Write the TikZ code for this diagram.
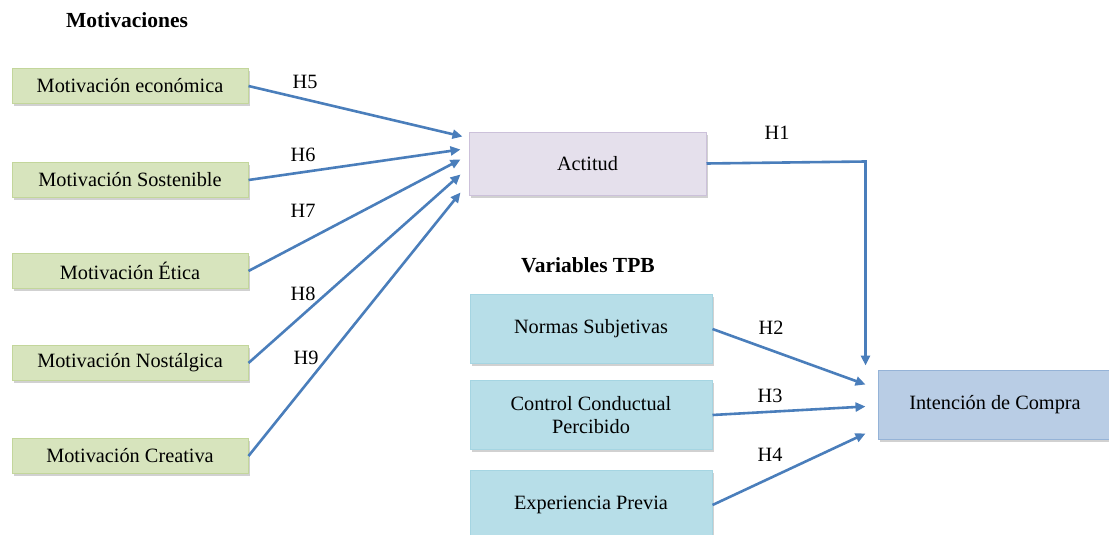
\documentclass[tikz,border=0pt]{standalone}
\usepackage{fontspec}
\setmainfont{Liberation Serif}
\usetikzlibrary{arrows.meta,calc,shadows}
\definecolor{gfill}{HTML}{D7E4BD}
\definecolor{gdraw}{HTML}{C3D69B}
\definecolor{pfill}{HTML}{E5E0EC}
\definecolor{pdraw}{HTML}{CCC1DA}
\definecolor{bfill}{HTML}{B7DEE8}
\definecolor{bdraw}{HTML}{A5D5E2}
\definecolor{ifill}{HTML}{B9CDE5}
\definecolor{idraw}{HTML}{95B3D7}
\definecolor{arr}{HTML}{4A7EBB}
\tikzset{
  base/.style={rectangle, line width=1pt, align=center, font=\fontsize{20.3}{23}\selectfont,
    drop shadow={shadow xshift=1.5pt, shadow yshift=-2.5pt, fill=black!30, opacity=0.6}},
  gbox/.style={base, fill=gfill, draw=gdraw, minimum width=236pt, minimum height=35pt},
  pbox/.style={base, fill=pfill, draw=pdraw, minimum width=237pt, minimum height=63pt},
  bbox/.style={base, fill=bfill, draw=bdraw, minimum width=242pt, minimum height=69pt},
  ibox/.style={base, fill=ifill, draw=idraw, minimum width=234pt, minimum height=69pt},
  conn/.style={draw=arr, line width=2.6pt, -{Triangle[length=10pt,width=9pt]}},
  hlab/.style={font=\fontsize{20.3}{23}\selectfont},
  head/.style={font=\bfseries\fontsize{21.5}{25}\selectfont}
}
\begin{document}
\begin{tikzpicture}[x=1pt,y=-1pt]
\useasboundingbox (0,0) rectangle (1109,535);
\node[head] (hm) at (127,20) {Motivaciones};
\node[head] (ht) at (588,265) {Variables TPB};

\node[gbox] (eco) at (130,86) {Motivación económica};
\node[gbox] (sos) at (130,180) {Motivación Sostenible};
\node[gbox] (eti) at (130,271) {Motivación Ética};
\node[gbox] (nos) at (130,363) {Motivación Nostálgica};
\node[gbox] (cre) at (130,456) {Motivación Creativa};

\node[pbox] (act) at (587.5,163.5) {Actitud};

\node[bbox] (nor) at (591,329) {Normas Subjetivas};
\node[bbox] (con) at (591,415) {Control Conductual\\Percibido};
\node[bbox] (exp) at (591,505) {Experiencia Previa};

\node[ibox] (int) at (995,404.5) {Intención de Compra};

\draw[conn] (eco.east) -- ($(act.north west)+(-6,5)$);
\draw[conn] (sos.east) -- ($(act.north west)+(-8,18)$);
\draw[conn] (eti.east) -- ($(act.north west)+(-8,28)$);
\draw[conn] (nos.east) -- ($(act.north west)+(-8,43)$);
\draw[conn] (cre.east) -- ($(act.north west)+(-8,61)$);

\coordinate (h1e) at ($(int.north west)+(-12,-4)$);
\coordinate (h1c) at ($(h1e |- act.east)+(0,-2)$);
\draw[conn] (act.east) -- (h1c) -- (h1e);

\draw[conn] (nor.east) -- ($(int.west)+(-12,-20)$);
\draw[conn] (con.east) -- ($(int.west)+(-12,2)$);
\draw[conn] (exp.east) -- ($(int.west)+(-12,29)$);

\node[hlab] (h5) at (305,82) {H5};
\node[hlab] (h6) at (303,155) {H6};
\node[hlab] (h7) at (303,211) {H7};
\node[hlab] (h8) at (303,294) {H8};
\node[hlab] (h9) at (306,358) {H9};
\node[hlab] (h1) at (777,133) {H1};
\node[hlab] (h2) at (771,328) {H2};
\node[hlab] (h3) at (770,396) {H3};
\node[hlab] (h4) at (770,455) {H4};
\end{tikzpicture}
\end{document}
